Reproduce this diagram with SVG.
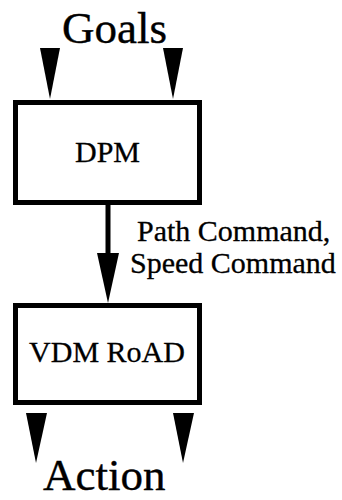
<svg xmlns="http://www.w3.org/2000/svg" width="342" height="500" viewBox="0 0 342 500">
  <style>
    .box { fill: #fff; stroke: #000; stroke-width: 5; }
    .big { font-family: "Liberation Serif", "Times New Roman", serif; font-size: 45px; fill: #000; stroke: #000; stroke-width: 0.4; }
    .lbl { font-family: "Liberation Serif", "Times New Roman", serif; font-size: 30px; fill: #000; stroke: #000; stroke-width: 0.3; }
    .head { fill: #000; }
    .wire { stroke: #000; stroke-width: 5; fill: none; }
  </style>
  <rect width="342" height="500" fill="#fff"/>

  <!-- input / output labels -->
  <text class="big" x="62" y="43">Goals</text>
  <text class="big" x="43" y="490">Action</text>

  <!-- connectors -->
  <g id="connectors">
    <polygon class="head" points="40,48 60,48 50,99"/>
    <polygon class="head" points="163,48 183,48 173,99"/>
    <line class="wire" x1="108" y1="205" x2="108" y2="256"/>
    <polygon class="head" points="97,253 119,253 108,303"/>
    <polygon class="head" points="26,413 47,413 36,463"/>
    <polygon class="head" points="173,413 194,413 183,463"/>
    <text class="lbl" x="137" y="241">Path Command,</text>
    <text class="lbl" x="130" y="273">Speed Command</text>
  </g>

  <g id="dpm">
    <rect class="box" x="15.5" y="102.5" width="184" height="100"/>
    <text class="lbl" x="107.5" y="162" text-anchor="middle">DPM</text>
  </g>

  <g id="vdm-road">
    <rect class="box" x="15.5" y="305.5" width="184" height="97"/>
    <text class="lbl" x="107" y="362" text-anchor="middle">VDM RoAD</text>
  </g>
</svg>
